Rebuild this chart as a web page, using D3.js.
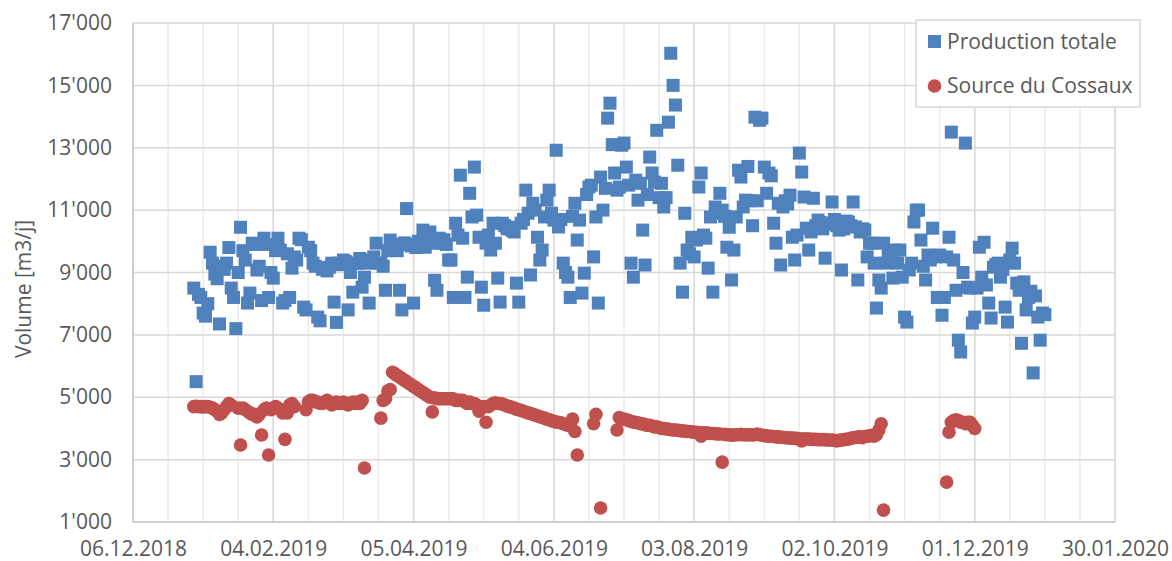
<!DOCTYPE html>
<html>
<head>
<meta charset="utf-8">
<script src="https://cdn.jsdelivr.net/npm/d3@7"></script>
<style>
    body { margin: 0; background: #fff; }
    svg { display: block; }
</style>
</head>
<body>
<svg width="1172" height="561"></svg>
<script>
// x axis labels (every 60 days) and y axis ticks
var xTickLabels = ["06.12.2018", "04.02.2019", "05.04.2019", "04.06.2019", "03.08.2019", "02.10.2019", "01.12.2019", "30.01.2020"];
var yTicks = [1000, 3000, 5000, 7000, 9000, 11000, 13000, 15000, 17000];
var seriesNames = ["Production totale", "Source du Cossaux"];

// daily values, first day 01.01.2019
var seriesStart = "01.01.2019";

var production = [
    8500, 5500, 8300, 8200, 7700, 7600, 8000, 9650, 9300, 8950,
    8800, 7350, 9200, 9100, 9300, 9800, 8500, 8200, 7200, 9000,
    10450, 9700, 9400, 8020, 8340, 9940, 9900, 9080, 9200, 8100,
    10100, 9900, 8200, 9000, 8820, 9700, 10100, 9720, 8020, 8100,
    9600, 8200, 9140, 9500, 9400, 10100, 10050, 7890, 7800, 9810,
    9700, 9300, 9200, 7570, 7450, 9100, 9150, 9050, 9170, 9300,
    8050, 7400, 9300, 9250, 9400, 9350, 7800, 9000, 8370, 9300,
    9300, 9450, 8530, 8850, 9300, 8020, 9400, 9500, 9940, 9300,
    9300, 9200, 8430, 9700, 10040, 9900, 9810, 9700, 8430, 7800,
    9950, 11050, 9900, 9850, 8020, 9800, 10000, 9900, 10360, 9810,
    10200, 10300, 9940, 8750, 8430, 10100, 9940, 10050, 9900, 9400,
    9400, 8200, 10580, 10200, 12120, 10100, 8200, 8850, 11540, 10780,
    12380, 10840, 10130, 8530, 7950, 9940, 10200, 9720, 10580, 9940,
    8820, 8050, 10580, 10500, 10400, 10450, 10360, 10300, 8660, 8050,
    10580, 10700, 11640, 10900, 8920, 11220, 11000, 10130, 9400, 9720,
    10780, 11320, 11640, 10900, 10680, 12920, 10460, 10700, 9300, 9000,
    8850, 8200, 10800, 11220, 10040, 10680, 8340, 8980, 11500, 11740,
    11800, 9500, 10780, 8020, 12060, 11000, 11700, 13950, 14430, 13100,
    12190, 11640, 11740, 13080, 13150, 12380, 11800, 9300, 8850, 11960,
    11320, 11860, 10360, 9240, 11500, 12700, 12190, 11900, 13560, 11400,
    11860, 11100, 11400, 13820, 16030, 15000, 14370, 12440, 9300, 8370,
    10900, 9720, 9600, 10130, 9500, 10040, 11740, 12190, 10200, 10100,
    9140, 10780, 8370, 11100, 10900, 11540, 11000, 10800, 9810, 10450,
    8760, 9720, 10780, 12280, 12060, 11100, 11320, 12400, 11300, 10500,
    13980, 11300, 13880, 13950, 12380, 11540, 12190, 12100, 10580, 9940,
    11220, 9240, 11100, 11300, 11200, 11480, 10130, 9400, 10200, 12830,
    12220, 11420, 10420, 9720, 10300, 11380, 10500, 10680, 10600, 10400,
    9460, 10550, 10580, 11260, 10700, 10500, 10360, 9080, 10400, 10650,
    10620, 10500, 11260, 10460, 8760, 10300, 10400, 10360, 9500, 9940,
    9940, 9300, 7860, 8760, 8500, 9940, 9300, 9600, 9400, 8820,
    9720, 9300, 9720, 8850, 7570, 7410, 9080, 9300, 10620, 11000,
    11000, 10040, 9200, 8760, 9560, 9400, 10420, 9500, 8200, 9560,
    7630, 8200, 9500, 10130, 13500, 9400, 8430, 6830, 6450, 9000,
    13150, 8530, 8500, 7380, 7570, 8500, 9810, 8850, 9970, 8600,
    8020, 7540, 9170, 9250, 9300, 8850, 9100, 7890, 7410, 9400,
    9780, 9300, 8660, 8430, 6730, 8700, 7800, 8200, 8400, 5780,
    8250, 7570, 6830, 7700, 7650
];

// null = no measurement that day
var cossaux = [
    4700, 4710, 4700, 4700, 4690, 4700, 4700, 4680, 4650, 4600,
    4550, 4450, 4500, 4600, 4700, 4800, 4750, null, null, 4650,
    3470, 4650, 4600, 4550, 4500, 4450, 4450, 4370, 4450, 3790,
    4600, 4650, 3150, 4600, 4650, 4700, 4650, 4600, 4500, 3650,
    4500, 4750, 4800, 4700, null, null, null, null, 4600, 4850,
    4900, 4900, 4850, 4850, 4800, 4800, 4850, 4900, 4850, 4750,
    4800, 4850, 4800, 4800, 4850, 4800, 4750, 4800, 4850, 4800,
    4850, 4800, 4900, 2730, null, null, null, null, null, null,
    4330, 4900, 4950, 5200, 5250, 5800, 5750, 5700, 5650, 5600,
    5550, 5500, 5450, 5400, 5350, 5300, 5250, 5200, 5150, 5100,
    5050, 5000, 4530, 4980, 4950, 4950, 4950, 4950, 4950, 4950,
    4950, 4950, 4900, 4900, 4900, 4900, 4850, 4800, 4850, 4800,
    4800, 4750, 4550, 4650, 4700, 4200, 4700, 4750, 4800, 4820,
    4800, 4800, 4780, 4750, 4720, 4700, 4680, 4650, 4620, 4600,
    4580, 4550, 4520, 4500, 4480, 4450, 4430, 4400, 4380, 4350,
    4330, 4300, 4280, 4250, 4230, 4200, 4200, 4180, 4150, 4130,
    4100, 4150, 4300, 3900, 3150, null, null, null, null, null,
    null, 4150, 4450, null, 1450, null, null, null, null, null,
    null, 3950, 4350, 4300, 4300, 4280, 4250, 4230, 4200, 4200,
    4180, 4150, 4150, 4120, 4100, 4100, 4080, 4050, 4050, 4030,
    4000, 4000, 3980, 3980, 3960, 3950, 3950, 3940, 3930, 3920,
    3920, 3900, 3900, 3890, 3880, 3880, 3870, 3750, 3860, 3850,
    3850, 3840, 3840, 3830, 3820, 3820, 2920, 3810, 3800, 3800,
    3780, 3790, 3800, 3800, 3810, 3800, 3790, 3800, 3800, 3790,
    3800, 3820, 3800, 3780, 3770, 3760, 3750, 3750, 3740, 3730,
    3720, 3720, 3710, 3700, 3700, 3690, 3690, 3680, 3680, 3670,
    3600, 3670, 3660, 3660, 3650, 3650, 3650, 3640, 3640, 3640,
    3640, 3630, 3630, 3630, 3620, 3600, 3620, 3630, 3640, 3650,
    3660, 3680, 3700, 3710, 3720, 3730, 3700, 3740, 3750, 3760,
    3780, 3750, 3800, 3950, 4150, 1380, null, null, null, null,
    null, null, null, null, null, null, null, null, null, null,
    null, null, null, null, null, null, null, null, null, null,
    null, null, 2280, 3880, 4200, 4250, 4280, 4250, 4200, 4200,
    4150, 4200, 4200, 4100, 4000
];

var blue = "#4F81BD";
var red = "#C0504D";
var textColor = "#595959";
var font = "'Open Sans', sans-serif";

var margin = { left: 133, right: 1115, top: 23, bottom: 522 };
var parseDay = d3.utcParse("%d.%m.%Y");
var fmtDay = d3.utcFormat("%d.%m.%Y");
var swiss = d3.formatLocale({ decimal: ".", thousands: "'", grouping: [3], currency: ["", ""] });

var svg = d3.select("svg");
var x, y;

function toPoints(values)
{
    var start = parseDay(seriesStart);
    var pts = [];
    values.forEach(function(v, i)
    {
        if (v !== null) pts.push({ date: d3.utcDay.offset(start, i), value: v });
    });
    return pts;
}

function drawGrid()
{
    var tickDates = xTickLabels.map(parseDay);
    var first = tickDates[0], last = tickDates[tickDates.length - 1];
    var minor = d3.utcDay.range(first, d3.utcDay.offset(last, 1), 15);
    var g = svg.append("g");

    // minor vertical lines every 15 days
    g.selectAll("line.minor")
        .data(minor)
        .enter().append("line")
        .attr("class", "minor")
        .attr("x1", function(d) { return x(d); })
        .attr("x2", function(d) { return x(d); })
        .attr("y1", margin.top)
        .attr("y2", margin.bottom)
        .attr("stroke", "#ebebeb")
        .attr("stroke-width", 1.5);

    g.selectAll("line.major")
        .data(tickDates)
        .enter().append("line")
        .attr("class", "major")
        .attr("x1", function(d) { return x(d); })
        .attr("x2", function(d) { return x(d); })
        .attr("y1", margin.top)
        .attr("y2", margin.bottom)
        .attr("stroke", "#d9d9d9")
        .attr("stroke-width", 1.5);

    g.selectAll("line.h")
        .data(yTicks)
        .enter().append("line")
        .attr("class", "h")
        .attr("x1", margin.left)
        .attr("x2", margin.right)
        .attr("y1", function(d) { return y(d); })
        .attr("y2", function(d) { return y(d); })
        .attr("stroke", "#d9d9d9")
        .attr("stroke-width", 1.5);

    // axis lines
    g.append("line")
        .attr("x1", margin.left).attr("x2", margin.left)
        .attr("y1", margin.top).attr("y2", margin.bottom)
        .attr("stroke", "#c8c8c8").attr("stroke-width", 1.5);
    g.append("line")
        .attr("x1", margin.left).attr("x2", margin.right)
        .attr("y1", margin.bottom).attr("y2", margin.bottom)
        .attr("stroke", "#c8c8c8").attr("stroke-width", 1.5);
}

function drawAxes()
{
    var yAxis = d3.axisLeft(y)
        .tickValues(yTicks)
        .tickSize(0)
        .tickPadding(21)
        .tickFormat(swiss.format(","));

    var xAxis = d3.axisBottom(x)
        .tickValues(xTickLabels.map(parseDay))
        .tickSize(0)
        .tickPadding(19)
        .tickFormat(fmtDay);

    var gy = svg.append("g")
        .attr("transform", "translate(" + margin.left + ",0)")
        .call(yAxis);
    var gx = svg.append("g")
        .attr("transform", "translate(0," + margin.bottom + ")")
        .call(xAxis);

    [gx, gy].forEach(function(g)
    {
        g.select(".domain").remove();
        g.selectAll("text")
            .attr("fill", textColor)
            .style("font-family", font)
            .style("font-size", "21px");
    });

    svg.append("text")
        .attr("transform", "translate(31,289) rotate(-90)")
        .attr("text-anchor", "middle")
        .attr("fill", textColor)
        .style("font-family", font)
        .style("font-size", "21px")
        .text("Volume [m3/j]");
}

function drawSeries()
{
    var side = 13;

    svg.append("g").selectAll("rect")
        .data(toPoints(production))
        .enter().append("rect")
        .attr("x", function(d) { return x(d.date) - side / 2; })
        .attr("y", function(d) { return y(d.value) - side / 2; })
        .attr("width", side)
        .attr("height", side)
        .attr("fill", blue);

    svg.append("g").selectAll("circle")
        .data(toPoints(cossaux))
        .enter().append("circle")
        .attr("cx", function(d) { return x(d.date); })
        .attr("cy", function(d) { return y(d.value); })
        .attr("r", 6.8)
        .attr("fill", red);
}

function drawLegend()
{
    var g = svg.append("g").attr("transform", "translate(916,20)");

    g.append("rect")
        .attr("width", 224)
        .attr("height", 87)
        .attr("fill", "#fff")
        .attr("stroke", "#d9d9d9")
        .attr("stroke-width", 1.5);

    g.append("rect")
        .attr("x", 12).attr("y", 15)
        .attr("width", 13).attr("height", 13)
        .attr("fill", blue);
    g.append("circle")
        .attr("cx", 18.5).attr("cy", 66)
        .attr("r", 6.8)
        .attr("fill", red);

    g.selectAll("text")
        .data(seriesNames)
        .enter().append("text")
        .attr("x", 31)
        .attr("y", function(d, i) { return 22 + i * 44; })
        .attr("dy", "0.35em")
        .attr("fill", textColor)
        .style("font-family", font)
        .style("font-size", "21px")
        .text(function(d) { return d; });
}

function setup()
{
    x = d3.scaleUtc()
        .domain([parseDay(xTickLabels[0]), parseDay(xTickLabels[xTickLabels.length - 1])])
        .range([margin.left, margin.right]);
    y = d3.scaleLinear()
        .domain([yTicks[0], yTicks[yTicks.length - 1]])
        .range([margin.bottom, margin.top]);

    drawGrid();
    drawAxes();
    drawSeries();
    drawLegend();
}

setup();
</script>
</body>
</html>
